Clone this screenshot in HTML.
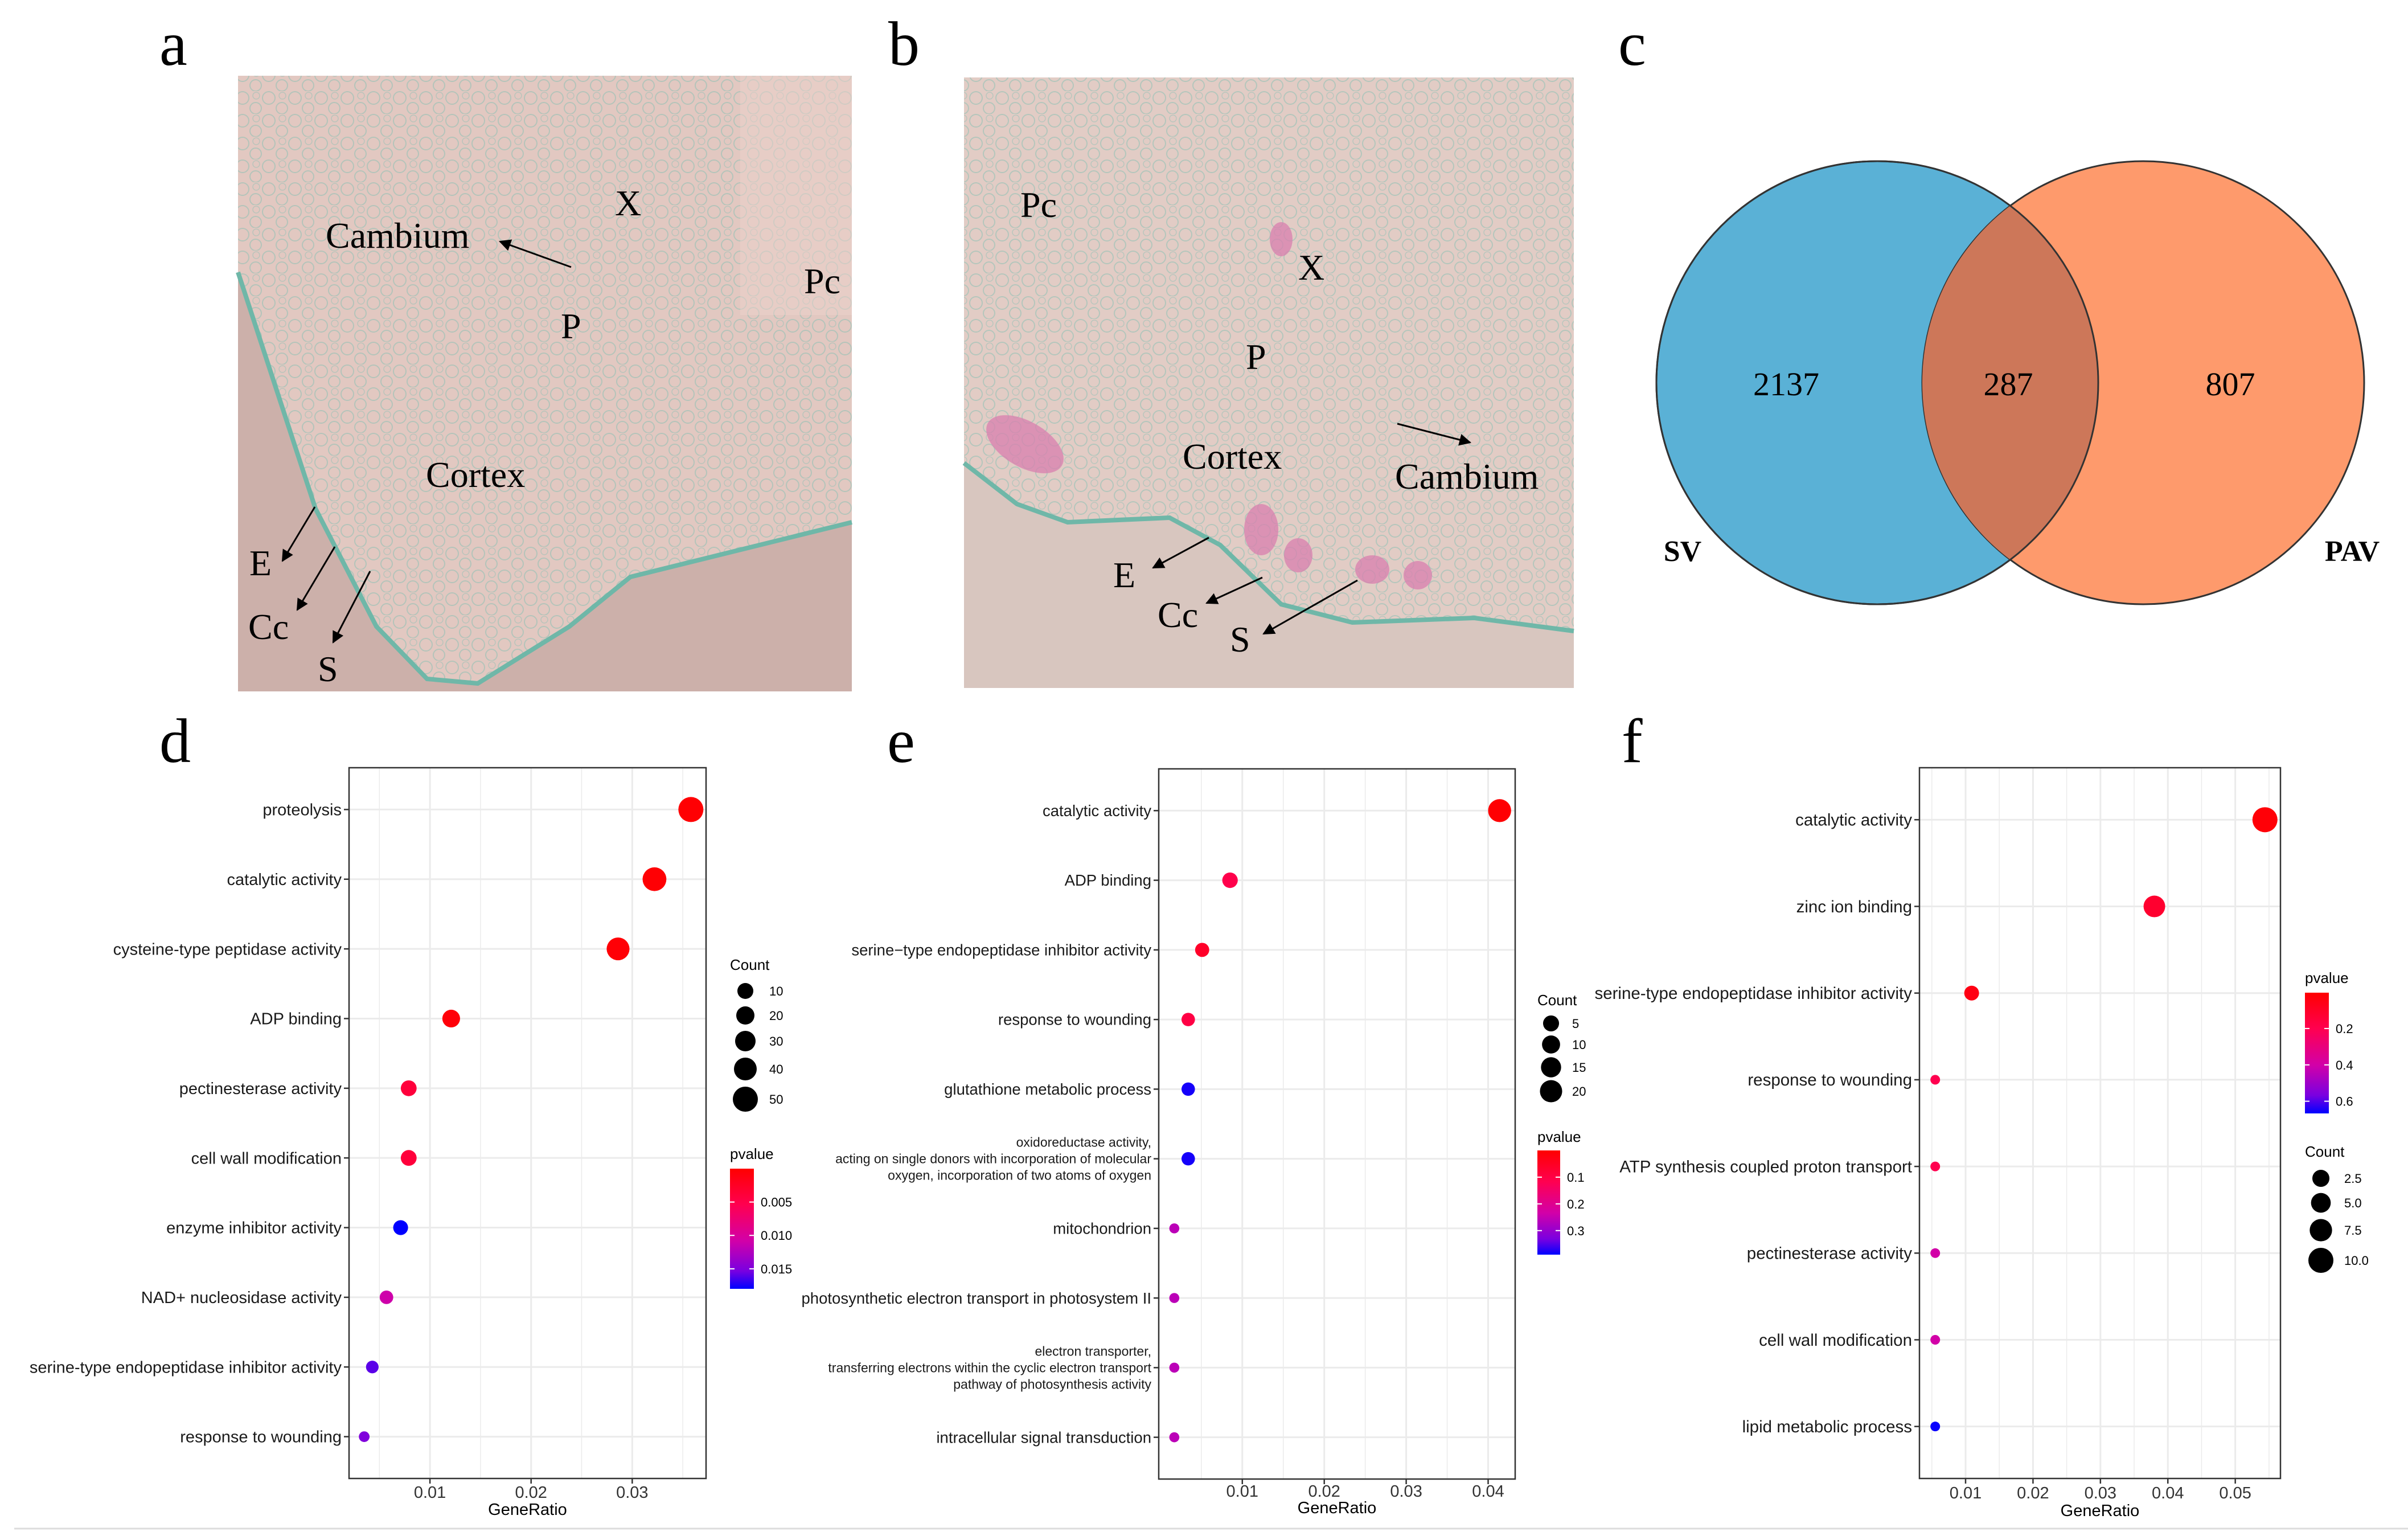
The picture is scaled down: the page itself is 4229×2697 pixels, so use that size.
<!DOCTYPE html>
<html><head><meta charset="utf-8"><style>
html,body{margin:0;padding:0;background:#fff}
svg{display:block}
.lbl{font-family:"Liberation Serif",serif}
.sans{font-family:"Liberation Sans",sans-serif}
</style></head><body>
<svg id="fig" xmlns="http://www.w3.org/2000/svg" width="4229" height="2697" viewBox="0 0 4229 2697">
<defs>
<pattern id="cells" width="46" height="40" patternUnits="userSpaceOnUse">
<circle cx="12" cy="12" r="11" fill="none" stroke="#7cbfb2" stroke-width="2" opacity="0.45"/>
<circle cx="35" cy="30" r="10" fill="none" stroke="#7cbfb2" stroke-width="2" opacity="0.45"/>
<circle cx="36" cy="8" r="6" fill="none" stroke="#7cbfb2" stroke-width="1.5" opacity="0.4"/>
</pattern>
<marker id="ah" viewBox="0 0 10 10" refX="9" refY="5" markerWidth="7" markerHeight="7" orient="auto"><path d="M0,0 L10,5 L0,10 z" fill="#000"/></marker>
<linearGradient id="pg" x1="0" y1="0" x2="0" y2="1">
<stop offset="0" stop-color="#ff0000"/><stop offset="0.3" stop-color="#ff0050"/><stop offset="0.6" stop-color="#d200a8"/><stop offset="0.85" stop-color="#7a00e0"/><stop offset="1" stop-color="#0000ff"/>
</linearGradient>
</defs>
<rect width="4229" height="2697" fill="#fff"/>

<!-- panel a photo -->
<g>
<rect x="418" y="133" width="1078" height="1081" fill="#ccb0aa"/>
<polygon points="418,133 1496,133 1496,917 1107,1013 1000,1100 839,1200 750,1192 661,1100 554,893 418,478" fill="#e2c8c1"/>
<polygon points="418,133 1496,133 1496,917 1107,1013 1000,1100 839,1200 750,1192 661,1100 554,893 418,478" fill="url(#cells)"/>
<polyline points="418,478 554,893 661,1100 750,1192 839,1200 1000,1100 1107,1013 1496,917" fill="none" stroke="#6fb7a8" stroke-width="8"/>
<rect x="1300" y="133" width="196" height="420" fill="#ecd2cc" opacity="0.5"/>
</g>
<g class="lbl" font-size="64" fill="#000">
<text x="1080" y="378">X</text><text x="572" y="435">Cambium</text><text x="985" y="594">P</text>
<text x="1412" y="515">Pc</text><text x="748" y="855">Cortex</text><text x="438" y="1010">E</text>
<text x="436" y="1122">Cc</text><text x="558" y="1196">S</text>
</g>
<g stroke="#000" stroke-width="3" marker-end="url(#ah)">
<line x1="1003" y1="469" x2="878" y2="424"/><line x1="553" y1="890" x2="496" y2="985"/>
<line x1="588" y1="960" x2="522" y2="1071"/><line x1="650" y1="1003" x2="585" y2="1128"/>
</g>

<!-- panel b photo -->
<g>
<rect x="1693" y="136" width="1071" height="1072" fill="#d8c6bf"/>
<polygon points="1693,136 2764,136 2764,1108 2589,1085 2375,1093 2250,1061 2143,957 2054,909 1875,917 1786,885 1693,813" fill="#e2ccc5"/>
<polygon points="1693,136 2764,136 2764,1108 2589,1085 2375,1093 2250,1061 2143,957 2054,909 1875,917 1786,885 1693,813" fill="url(#cells)"/>
<polyline points="1693,813 1786,885 1875,917 2054,909 2143,957 2250,1061 2375,1093 2589,1085 2764,1108" fill="none" stroke="#6fb7a8" stroke-width="8"/>
<g fill="#d97fae" opacity="0.75">
<ellipse cx="1800" cy="780" rx="75" ry="40" transform="rotate(30 1800 780)"/>
<ellipse cx="2215" cy="930" rx="30" ry="45"/><ellipse cx="2280" cy="975" rx="25" ry="30"/>
<ellipse cx="2410" cy="1000" rx="30" ry="25"/><ellipse cx="2490" cy="1010" rx="25" ry="25"/>
<ellipse cx="2250" cy="420" rx="20" ry="30"/>
</g>
</g>
<g class="lbl" font-size="64" fill="#000">
<text x="1792" y="381">Pc</text><text x="2280" y="491">X</text><text x="2188" y="648">P</text>
<text x="2077" y="823">Cortex</text><text x="2450" y="858">Cambium</text><text x="1955" y="1031">E</text>
<text x="2033" y="1101">Cc</text><text x="2160" y="1144">S</text>
</g>
<g stroke="#000" stroke-width="3" marker-end="url(#ah)">
<line x1="2454" y1="744" x2="2582" y2="777"/><line x1="2123" y1="944" x2="2025" y2="997"/>
<line x1="2217" y1="1014" x2="2119" y2="1059"/><line x1="2384" y1="1019" x2="2219" y2="1113"/>
</g>

<!-- venn -->
<g>
<ellipse cx="3297" cy="672" rx="388" ry="389" fill="#5ab1d6" stroke="#333" stroke-width="3"/>
<ellipse cx="3764" cy="672" rx="388" ry="389" fill="#fe9a6c" stroke="#333" stroke-width="3"/>
<clipPath id="lc"><ellipse cx="3297" cy="672" rx="388" ry="389"/></clipPath>
<ellipse cx="3764" cy="672" rx="388" ry="389" fill="#cd7759" clip-path="url(#lc)"/>
<ellipse cx="3297" cy="672" rx="388" ry="389" fill="none" stroke="#333" stroke-width="3"/>
<g class="lbl" font-size="58" text-anchor="middle">
<text x="3137" y="694">2137</text><text x="3527" y="694">287</text><text x="3917" y="694">807</text>
</g>
<g class="lbl" font-size="52" font-weight="bold" text-anchor="middle">
<text x="2955" y="985">SV</text><text x="4131" y="985">PAV</text>
</g>
</g>

<g class="lbl" font-size="110" fill="#000">
<text x="280" y="114">a</text><text x="1560" y="114">b</text><text x="2842" y="114">c</text>
<text x="280" y="1338">d</text><text x="1558" y="1338">e</text><text x="2848" y="1338">f</text>
</g>
<line x1="25" y1="2684" x2="4229" y2="2684" stroke="#dcdcdc" stroke-width="3"/>
<g id="charts"></g>
</svg>
<script>
// ---- panel d data ----
const dTerms = ["proteolysis","catalytic activity","cysteine-type peptidase activity","ADP binding","pectinesterase activity","cell wall modification","enzyme inhibitor activity","NAD+ nucleosidase activity","serine-type endopeptidase inhibitor activity","response to wounding"];
const dRatio = [0.0358,0.0322,0.0286,0.0121,0.0079,0.0079,0.0071,0.0057,0.0043,0.0035];
const dCount = [50,46,43,27,21,21,18,14,11,5];
const dPval = [0.0002,0.0003,0.0004,0.0006,0.004,0.004,0.018,0.011,0.016,0.015];
const dXTicks = [0.01,0.02,0.03];
const dCountKeys = [10,20,30,40,50];
const dPTicks = [0.005,0.010,0.015];
const dPTickLabels = ["0.005","0.010","0.015"];
// ---- panel e data ----
const eTerms = ["catalytic activity","ADP binding","serine\u2212type endopeptidase inhibitor activity","response to wounding","glutathione metabolic process","oxidoreductase activity,\nacting on single donors with incorporation of molecular\noxygen, incorporation of two atoms of oxygen","mitochondrion","photosynthetic electron transport in photosystem II","electron transporter,\ntransferring electrons within the cyclic electron transport\npathway of photosynthesis activity","intracellular signal transduction"];
const eRatio = [0.0414,0.0085,0.0051,0.0034,0.0034,0.0034,0.0017,0.0017,0.0017,0.0017];
const eCount = [22,11,9,8,8,8,3,3,3,3];
const ePval = [0.005,0.11,0.06,0.10,0.38,0.38,0.26,0.26,0.26,0.26];
const eXTicks = [0.01,0.02,0.03,0.04];
const eCountKeys = [5,10,15,20];
const ePTicks = [0.1,0.2,0.3];
const ePTickLabels = ["0.1","0.2","0.3"];
// ---- panel f data ----
const fTerms = ["catalytic activity","zinc ion binding","serine-type endopeptidase inhibitor activity","response to wounding","ATP synthesis coupled proton transport","pectinesterase activity","cell wall modification","lipid metabolic process"];
const fRatio = [0.0544,0.0380,0.0109,0.0055,0.0055,0.0055,0.0055,0.0055];
const fCount = [11,9,5,2,2,2,2,2];
const fPval = [0.02,0.12,0.05,0.2,0.2,0.4,0.4,0.66];
const fXTicks = [0.01,0.02,0.03,0.04,0.05];
const fCountKeys = [2.5,5.0,7.5,10.0];
const fCountKeyLabels = ["2.5","5.0","7.5","10.0"];
const fPTicks = [0.2,0.4,0.6];
const fPTickLabels = ["0.2","0.4","0.6"];

const NS = "http://www.w3.org/2000/svg";
const root = document.getElementById("charts");
function mk(tag, attrs, parent){const e=document.createElementNS(NS,tag);for(const k in attrs)e.setAttribute(k,attrs[k]);(parent||root).appendChild(e);return e;}
function lerp(a,b,t){return a+(b-a)*t;}
const stops=[[0,[255,0,0]],[0.3,[255,0,80]],[0.6,[210,0,168]],[0.85,[122,0,224]],[1,[0,0,255]]];
function pcolor(t){t=Math.max(0,Math.min(1,t));for(let i=1;i<stops.length;i++){if(t<=stops[i][0]){const a=stops[i-1],b=stops[i];const u=(t-a[0])/(b[0]-a[0]);return "rgb("+[0,1,2].map(k=>Math.round(lerp(a[1][k],b[1][k],u))).join(",")+")";}}return "rgb(0,0,255)";}

function panel(cfg){
  const g=mk("g",{});
  
  
  const {x0,x1,y0,y1,xmin,xmax}=cfg;
  const sx=v=>x0+(v-xmin)/(xmax-xmin)*(x1-x0);
  const n=cfg.terms.length;
  const step=(y1-y0)/(n-1+1.2);
  const sy=i=>y0+(0.6+i)*step;
  // grid
  const step2=(cfg.xticks[1]-cfg.xticks[0])/2;
  for(let v=cfg.xticks[0]-step2; v<xmax; v+=step2){
    if(v<xmin) continue;
    const major=cfg.xticks.some(t=>Math.abs(t-v)<1e-9);
    const l=mk("line",{x1:sx(v),x2:sx(v),y1:y0,y2:y1,stroke:"#ebebeb","stroke-width":major?3:1.5},g);
    
    
  }
  for(let i=0;i<n;i++){
    const l=mk("line",{x1:x0,x2:x1,y1:sy(i),y2:sy(i),stroke:"#ebebeb","stroke-width":3},g);
    
    
  }
  // points (draw from bottom to top so larger on top)
  for(let i=n-1;i>=0;i--){
    const t=(cfg.pval[i]-cfg.pmin)/(cfg.pmax-cfg.pmin);
    const c=mk("circle",{cx:sx(cfg.ratio[i]),cy:sy(i),r:cfg.rfn(cfg.count[i]),fill:pcolor(t)},g);
    
    
  }
  const b=mk("rect",{x:x0,y:y0,width:x1-x0,height:y1-y0,fill:"none",stroke:"#333","stroke-width":2.5},g);
  
  
  // y labels
  for(let i=0;i<n;i++){
    mk("line",{x1:x0-9,x2:x0,y1:sy(i),y2:sy(i),stroke:"#333","stroke-width":2.5},g);
    const lines=cfg.terms[i].split("\n");
    const fs=lines.length>1?cfg.smallFs:cfg.fs;
    const lh=lines.length>1?29:0;
    lines.forEach((ln,k)=>{
      const tx=mk("text",{x:x0-13,y:sy(i)+fs*0.35+(k-(lines.length-1)/2)*lh,"text-anchor":"end","font-size":fs,"class":"sans",fill:"#1a1a1a"},g);
      tx.textContent=ln;
      
      
    });
  }
  // x ticks
  cfg.xticks.forEach(v=>{
    mk("line",{x1:sx(v),x2:sx(v),y1:y1,y2:y1+9,stroke:"#333","stroke-width":2.5},g);
    const tx=mk("text",{x:sx(v),y:cfg.tickY,"text-anchor":"middle","font-size":29,"class":"sans",fill:"#333"},g);
    tx.textContent=String(v);
    
    
  });
  const xt=mk("text",{x:(x0+x1)/2,y:cfg.titleY,"text-anchor":"middle","font-size":29,"class":"sans",fill:"#000"},g);
  xt.textContent="GeneRatio";
  
  
  // count legend
  const ct=mk("text",{x:cfg.cLegX,y:cfg.cTitleY,"font-size":26,"class":"sans"},g);
  ct.textContent="Count";
  
  
  cfg.ckeys.forEach((v,k)=>{
    const c=mk("circle",{cx:cfg.cCx,cy:cfg.cYs[k],r:cfg.lrfn(v),fill:"#000"},g);
    
    
    const tx=mk("text",{x:cfg.cLabX,y:cfg.cYs[k]+8,"font-size":22,"class":"sans"},g);
    tx.textContent=cfg.ckeyLabels?cfg.ckeyLabels[k]:String(v);
    
    
  });
  // pvalue legend
  const pt=mk("text",{x:cfg.pX,y:cfg.pTitleY,"font-size":26,"class":"sans"},g);
  pt.textContent="pvalue";
  
  
  const bar=mk("rect",{x:cfg.pX,y:cfg.pY0,width:cfg.pW,height:cfg.pY1-cfg.pY0,fill:"url(#pg)"},g);
  
  
  cfg.pticks.forEach((v,k)=>{
    const y=cfg.pY0+(v-cfg.pmin)/(cfg.pmax-cfg.pmin)*(cfg.pY1-cfg.pY0);
    mk("line",{x1:cfg.pX,x2:cfg.pX+8,y1:y,y2:y,stroke:"#fff","stroke-width":2},g);
    mk("line",{x1:cfg.pX+cfg.pW-8,x2:cfg.pX+cfg.pW,y1:y,y2:y,stroke:"#fff","stroke-width":2},g);
    const tx=mk("text",{x:cfg.pX+cfg.pW+12,y:y+8,"font-size":22,"class":"sans"},g);
    tx.textContent=cfg.ptickLabels[k];
    
    
  });
}

panel({name:"dotplot-d",terms:dTerms,ratio:dRatio,count:dCount,pval:dPval,xticks:dXTicks,
  x0:613,x1:1240,y0:1348,y1:2596,xmin:0.0020,xmax:0.0373,fs:29,smallFs:24,tickY:2630,titleY:2660,
  rfn:c=>8+0.28*c,lrfn:v=>12+0.2*v,ckeys:dCountKeys,cLegX:1282,cTitleY:1703,cCx:1309,cYs:[1740,1783,1828,1877,1930],cLabX:1351,
  pmin:0,pmax:0.018,pX:1282,pW:42,pY0:2052,pY1:2263,pTitleY:2035,pticks:dPTicks,ptickLabels:dPTickLabels});
panel({name:"dotplot-e",terms:eTerms,ratio:eRatio,count:eCount,pval:ePval,xticks:eXTicks,
  x0:2035,x1:2661,y0:1350,y1:2597,xmin:-0.0002,xmax:0.0433,fs:27.5,smallFs:23,tickY:2628,titleY:2657,
  rfn:c=>7+0.6*c,lrfn:v=>12.2+0.367*v,ckeys:eCountKeys,cLegX:2700,cTitleY:1765,cCx:2724,cYs:[1797,1834,1874,1916],cLabX:2761,
  pmin:0,pmax:0.39,pX:2700,pW:40,pY0:2020,pY1:2203,pTitleY:2005,pticks:ePTicks,ptickLabels:ePTickLabels});
panel({name:"dotplot-f",terms:fTerms,ratio:fRatio,count:fCount,pval:fPval,xticks:fXTicks,
  x0:3371,x1:4005,y0:1348,y1:2596,xmin:0.00316,xmax:0.0567,fs:29.5,smallFs:24,tickY:2631,titleY:2662,
  rfn:c=>5.5+1.5*c,lrfn:v=>12.7+0.93*v,ckeys:fCountKeys,ckeyLabels:fCountKeyLabels,cLegX:4048,cTitleY:2031,cCx:4076,cYs:[2069,2112,2160,2213],cLabX:4117,
  pmin:0.003,pmax:0.667,pX:4048,pW:42,pY0:1743,pY1:1955,pTitleY:1726,pticks:fPTicks,ptickLabels:fPTickLabels});
</script>
</body></html>
